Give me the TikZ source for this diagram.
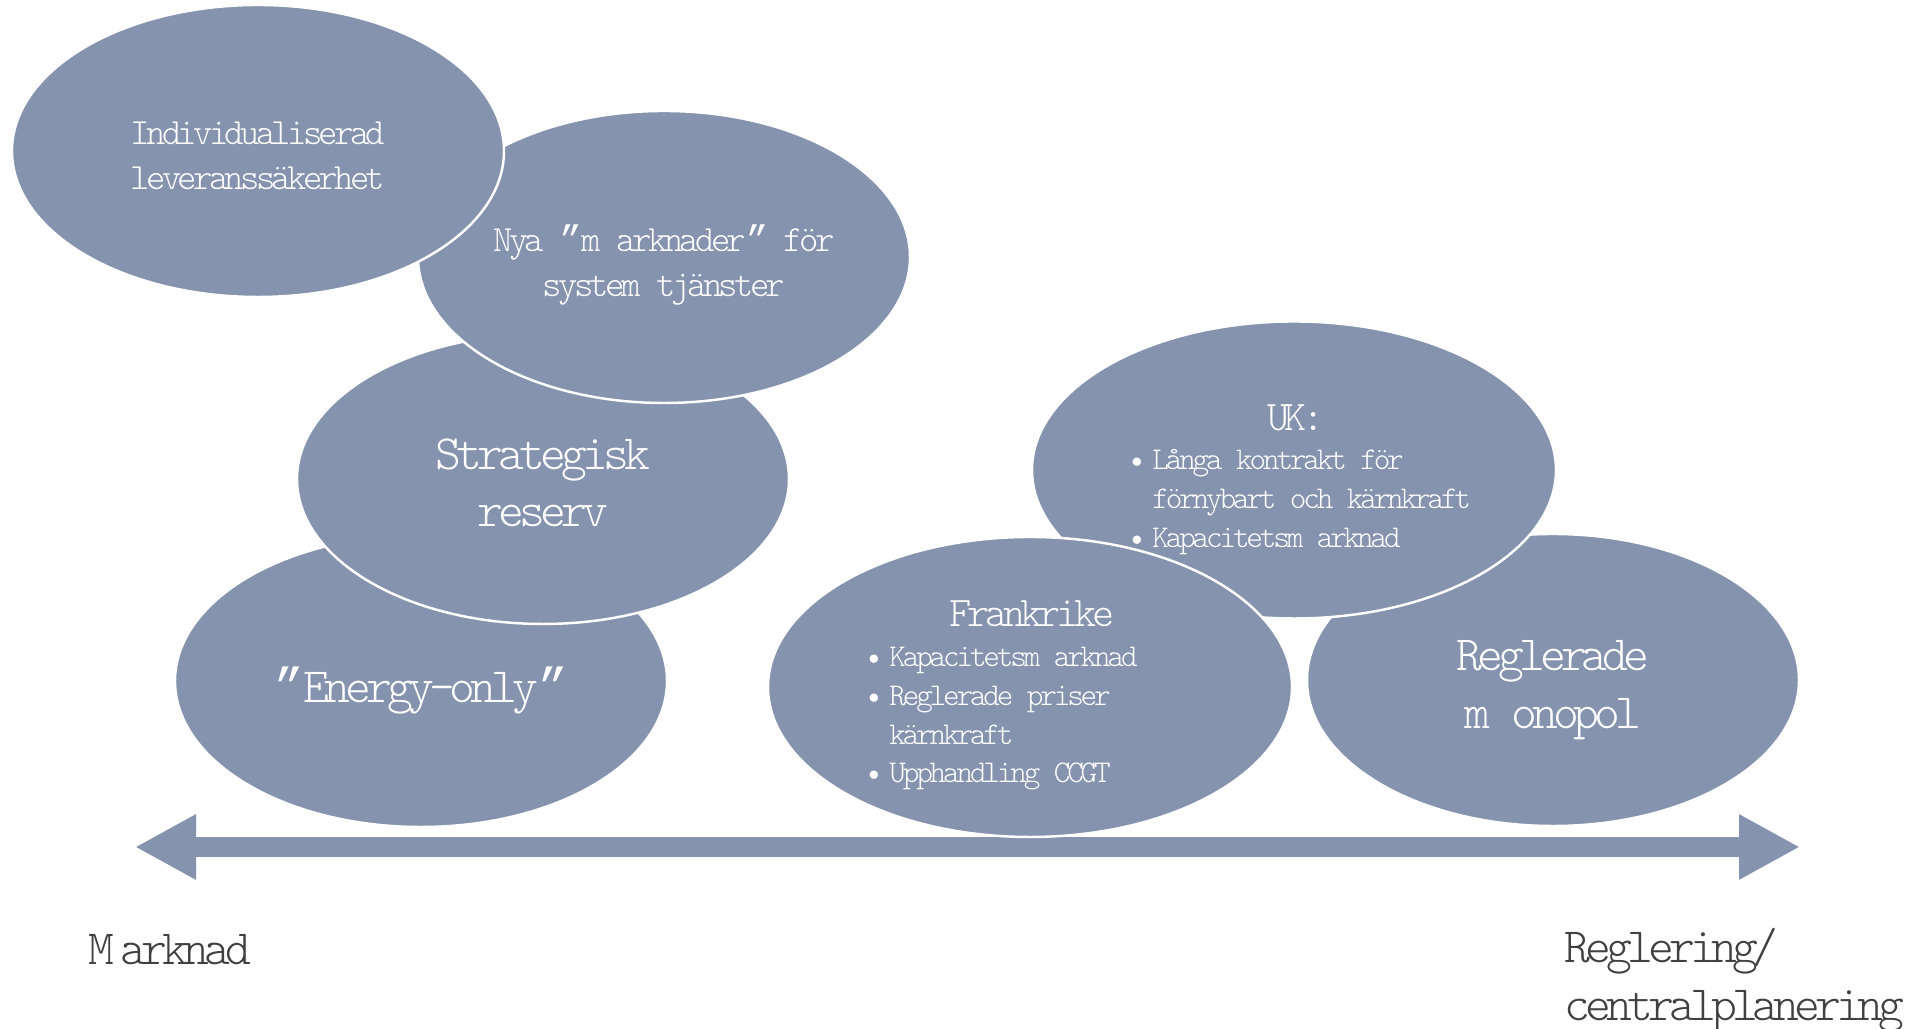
\documentclass[tikz,border=0pt]{standalone}
\usepackage{fontspec}
\usepackage{tikz}
\usetikzlibrary{shapes.geometric,arrows.meta}
\newfontfamily\squeezed{lmmonolt10-regular.otf}[LetterSpace=-10]
\newfontfamily\quotefont{Liberation Mono}[LetterSpace=-10]
\definecolor{bubblecol}{RGB}{133,147,174}
\definecolor{labelcol}{RGB}{64,64,64}
\newcommand{\itm}{\textbullet\hspace{2pt}}
\newcommand{\cq}{{\quotefont ”}}
\tikzset{
  >=latex,
}
\tikzstyle{bubble}=[ellipse,fill=bubblecol,draw=white,line width=.7pt,inner sep=0pt,
  minimum width=4.92cm,minimum height=2.92cm]
\tikzstyle{wide bubble}=[bubble,minimum width=5.24cm,minimum height=3cm]
\tikzstyle{small}=[text=white,align=center,font=\squeezed\fontsize{10.5}{12.8}\selectfont]
\tikzstyle{big}=[text=white,align=center,font=\squeezed\fontsize{14}{16.3}\selectfont]
\tikzstyle{head}=[text=white,font=\squeezed\fontsize{12}{14}\selectfont]
\tikzstyle{list}=[text=white,align=left,inner sep=0pt,font=\squeezed\fontsize{9}{11}\selectfont]
\tikzstyle{axislabel}=[text=labelcol,align=left,anchor=west,inner sep=0pt,
  font=\squeezed\fontsize{14}{16.5}\selectfont]
\tikzstyle{axis}=[draw=bubblecol,line width=0.195cm,
  {Triangle[length=0.61cm,width=0.61cm]}-{Triangle[length=0.61cm,width=0.61cm]}]

\begin{document}
\begin{tikzpicture}
  \useasboundingbox (0,0) rectangle (19.10,-10.29);
  % axis
  \coordinate (mkt end) at (1.35,-8.47);
  \coordinate (reg end) at (18.00,-8.47);
  \draw[axis] (mkt end) -- (reg end);
  \node[axislabel] (mkt) at (0.88,-9.50) {M\hspace{0.12em}arknad};
  \node[axislabel] (reg) at (15.64,-9.80) {Reglering/\\centralplanering};
  % left pile
  \node[bubble] (energy) at (4.21,-6.81) {};
  \node[big] (energy txt) at ([yshift=-0.10cm]energy.center) {\cq Energy-only\cq};
  \node[bubble,minimum height=2.9cm] (strat) at (5.43,-4.79) {};
  \node[big] (strat txt) at ([yshift=-0.04cm]strat.center) {Strategisk\\reserv};
  \node[bubble] (nya) at (6.64,-2.57) {};
  \node[small] (nya txt) at ([yshift=-0.08cm]nya.center) {Nya \cq m arknader\cq{} för\\system tjänster};
  \node[bubble] (indiv) at (2.58,-1.51) {};
  \node[small] (indiv txt) at ([yshift=-0.05cm]indiv.center) {Individualiserad\\leveranssäkerhet};
  % right pile
  \node[bubble] (monopol) at (15.53,-6.80) {};
  \node[big] (monopol txt) at ([yshift=-0.10cm]monopol.center) {Reglerade\\m onopol};
  \node[wide bubble,minimum height=2.97cm] (uk) at (12.94,-4.70) {};
  \node[head] (uk head) at (12.96,-4.18) {UK:};
  \node[list,anchor=west] (uk list) at (11.28,-5.02)
    {\itm Långa kontrakt för\\\phantom{\itm}förnybart och kärnkraft\\\itm Kapacitetsm arknad};
  \node[wide bubble] (fra) at (10.30,-6.87) {};
  \node[head] (fra head) at (10.32,-6.14) {Frankrike};
  \node[list,anchor=west] (fra list) at (8.65,-7.19)
    {\itm Kapacitetsm arknad\\\itm Reglerade priser\\\phantom{\itm}kärnkraft\\\itm Upphandling CCGT};
\end{tikzpicture}
\end{document}
